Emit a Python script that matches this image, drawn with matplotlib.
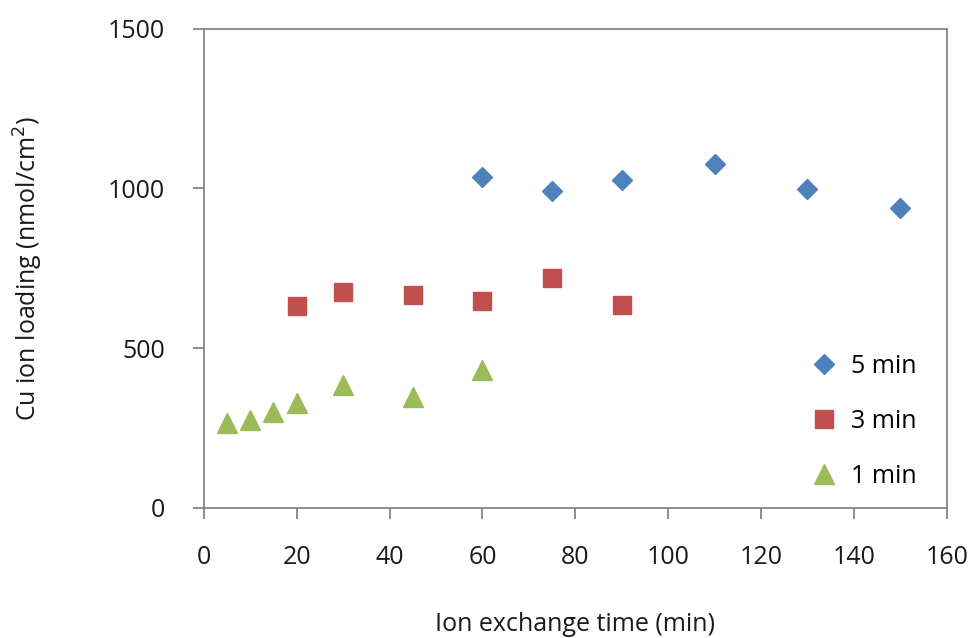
import matplotlib
matplotlib.use("Agg")
import matplotlib.pyplot as plt

plt.rcParams['font.family'] = ['Open Sans', 'DejaVu Sans']

# 5 min series
t_5min = [60, 75, 90, 110, 130, 150]
load_5min = [1036, 992, 1027, 1077, 999, 939]

# 3 min series
t_3min = [20, 30, 45, 60, 75, 90]
load_3min = [632, 676, 667, 648, 720, 635]

# 1 min series
t_1min = [5, 10, 15, 20, 30, 45, 60]
load_1min = [266, 275, 300, 329, 385, 347, 432]

x_ticks = [0, 20, 40, 60, 80, 100, 120, 140, 160]
y_ticks = [0, 500, 1000, 1500]

fig = plt.figure(figsize=(9.75, 6.38), dpi=100)
ax = fig.add_axes([0.209, 0.204, 0.762, 0.751])

ax.plot(t_5min, load_5min, linestyle='none', marker='D', markersize=10,
        color='#4F81BD', label='5 min')
ax.plot(t_3min, load_3min, linestyle='none', marker='s', markersize=13,
        color='#C0504D', label='3 min')
ax.plot(t_1min, load_1min, linestyle='none', marker='^', markersize=14,
        color='#9BBB59', label='1 min')

ax.set_xlim(0, 160)
ax.set_ylim(0, 1500)
ax.set_xticks(x_ticks)
ax.set_yticks(y_ticks)

for s in ax.spines.values():
    s.set_color('#868686')
    s.set_linewidth(1.3)
ax.tick_params(axis='both', direction='out', length=8, width=1.3,
               color='#868686', labelsize=18, labelcolor='#1a1a1a')
ax.tick_params(axis='y', pad=20)
ax.tick_params(axis='x', pad=19)

ax.set_xlabel('Ion exchange time (min)', fontsize=18, color='#1a1a1a', labelpad=30)
ax.set_ylabel('Cu ion loading (nmol/cm$^2$)', fontsize=18, color='#1a1a1a', labelpad=45)

leg = ax.legend(loc='upper right', bbox_to_anchor=(0.99, 0.368), frameon=False,
                fontsize=18, labelspacing=1.2, handlelength=1.0,
                handletextpad=0.6, markerscale=1.0)

fig.savefig('out.png', dpi=100)
